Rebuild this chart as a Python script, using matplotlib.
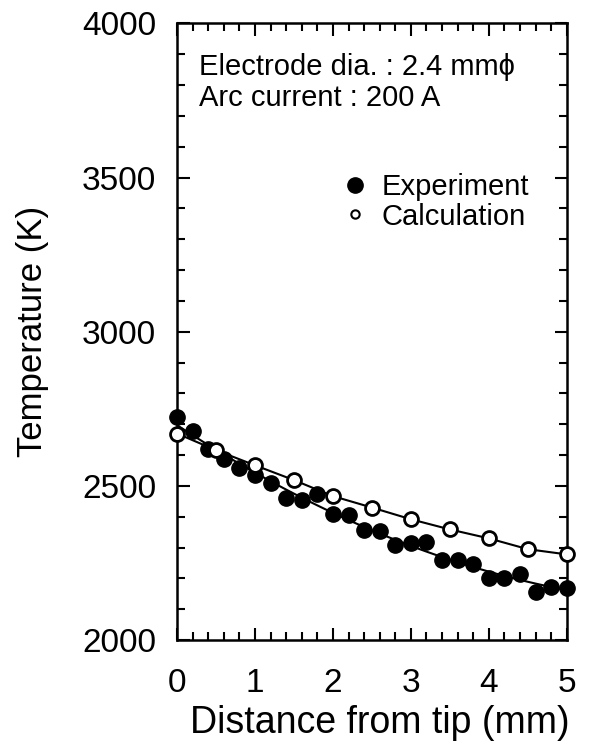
import numpy as np
import matplotlib.pyplot as plt
from matplotlib.lines import Line2D
from matplotlib.ticker import MultipleLocator

plt.rcParams['font.family'] = ['Liberation Sans', 'DejaVu Sans']

dist_exp = [0.0, 0.2, 0.4, 0.6, 0.8, 1.0, 1.2, 1.4, 1.6, 1.8, 2.0, 2.2, 2.4,
            2.6, 2.8, 3.0, 3.2, 3.4, 3.6, 3.8, 4.0, 4.2, 4.4, 4.6, 4.8, 5.0]
temp_exp = [2725, 2677, 2621, 2586, 2559, 2535, 2508, 2461, 2456, 2475, 2408,
            2405, 2357, 2355, 2308, 2315, 2319, 2259, 2259, 2246, 2203, 2203,
            2214, 2157, 2173, 2168]

# calculated temperatures
dist_calc = [0.0, 0.5, 1.0, 1.5, 2.0, 2.5, 3.0, 3.5, 4.0, 4.5, 5.0]
temp_calc = [2670, 2616, 2567, 2519, 2467, 2430, 2392, 2359, 2330, 2295, 2278]

fig = plt.figure(figsize=(5.96, 7.54), dpi=100)
ax = fig.add_axes([0.297, 0.151, 0.654, 0.818])

# fitted curve through the experiment points
coef = np.polyfit(dist_exp, temp_exp, 2)
xf = np.linspace(0, 5, 100)
ax.plot(xf, np.polyval(coef, xf), color='black', lw=1.5, zorder=2)

ax.plot(dist_exp, temp_exp, 'o', ms=11, color='black', zorder=3, clip_on=False)
ax.plot(dist_calc, temp_calc, '-o', ms=10, color='black', lw=1.5,
        mfc='white', mec='black', mew=2, zorder=4, clip_on=False)

ax.set_xlim(0, 5)
ax.set_ylim(2000, 4000)
ax.xaxis.set_major_locator(MultipleLocator(1))
ax.xaxis.set_minor_locator(MultipleLocator(0.2))
ax.yaxis.set_major_locator(MultipleLocator(500))
ax.yaxis.set_minor_locator(MultipleLocator(100))
ax.tick_params(which='both', direction='in', top=True, right=True, width=1.5)
ax.tick_params(which='major', length=9, labelsize=24, pad=15)
ax.tick_params(axis='x', which='major', pad=20)
ax.tick_params(which='minor', length=6)
for s in ax.spines.values():
    s.set_linewidth(1.8)

ax.set_xlabel('Distance from tip (mm)', fontsize=27)
ax.xaxis.set_label_coords(0.52, -0.105)
ax.set_ylabel('Temperature (K)', fontsize=25, labelpad=24)

ax.text(0.056, 0.904, 'Electrode dia. : 2.4 mmϕ\nArc current : 200 A',
        transform=ax.transAxes, fontsize=21, va='center', linespacing=1.15)

handles = [Line2D([], [], ls='', marker='o', ms=11, color='black'),
           Line2D([], [], ls='', marker='o', ms=6, mfc='white', mec='black', mew=1.5)]
ax.legend(handles, ['Experiment', 'Calculation'], loc='upper left',
          bbox_to_anchor=(0.413, 0.757), frameon=False, fontsize=21,
          handletextpad=0.3, labelspacing=0.05, handlelength=1.2,
          borderpad=0, borderaxespad=0)

fig.savefig('out.png', dpi=100)
